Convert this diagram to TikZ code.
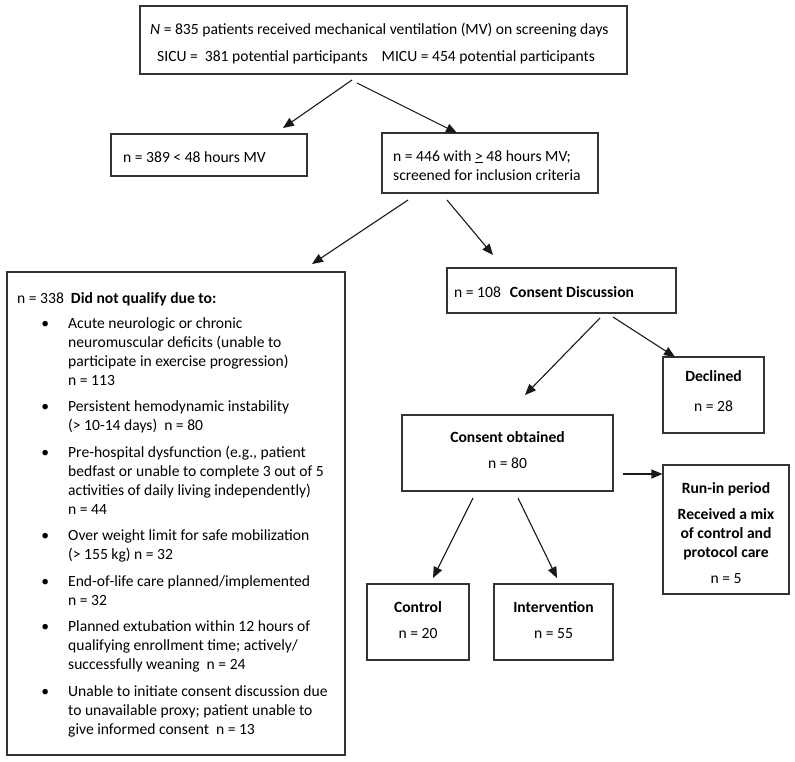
\documentclass[tikz,border=0pt]{standalone}
\usepackage{fontspec}
\setmainfont{Carlito}
\usetikzlibrary{arrows.meta}
\newcommand\fs{\fontsize{15.6}{19}\selectfont}
\newcommand\bul{\leavevmode\llap{\textbullet\hspace{19pt}}}
\begin{document}
\begin{tikzpicture}[x=1pt,y=-1pt,
  box/.style={draw=black!80,line width=1.1pt,inner sep=0pt,rectangle},
  txt/.style={inner sep=0pt,anchor=base west,font=\fs},
  ctxt/.style={inner sep=0pt,anchor=base,font=\fs},
  arr/.style={line width=1.1pt,draw=black!90,-{Triangle[length=11pt,width=9pt]}}]
\useasboundingbox (0,0) rectangle (795,761);
\fill[white] (0,0) rectangle (795,761);
% boxes
\node[box,minimum width=487pt,minimum height=68pt] (top) at (383.5,40) {};
\node[box,minimum width=196pt,minimum height=42pt] (short) at (209,155) {};
\node[box,minimum width=216pt,minimum height=60pt] (long) at (490,163) {};
\node[box,minimum width=338pt,minimum height=483pt] (excl) at (176,513.5) {};
\node[box,minimum width=229pt,minimum height=45pt] (cd) at (561.5,290.5) {};
\node[box,minimum width=101pt,minimum height=76pt] (dec) at (713.5,395) {};
\node[box,minimum width=211pt,minimum height=76pt] (co) at (507.5,453) {};
\node[box,minimum width=126pt,minimum height=129pt] (run) at (726,529.5) {};
\node[box,minimum width=102pt,minimum height=76pt] (ctrl) at (418,622) {};
\node[box,minimum width=119pt,minimum height=76pt] (int) at (553.5,622) {};
% texts
\node[txt] (t1) at (150,34) {\textit{N} = 835 patients received mechanical ventilation (MV) on screening days};
\node[txt] (t2) at (157,61) {SICU =\hspace{7pt}381 potential participants\hspace{14pt}MICU = 454 potential participants};
\node[txt] (t3) at (123,162) {n = 389 {<} 48 hours MV};
\node[txt] (t4) at (393,161) {\parbox[t]{200pt}{\fs n = 446 with \underline{>} 48 hours MV;\\ screened for inclusion criteria}};
\node[txt] (t5) at (17,303) {n = 338\hspace{7pt}\textbf{Did not qualify due to:}};
\node[txt] (t6) at (68,328) {\parbox[t]{275pt}{\fs
\bul Acute neurologic or chronic\\
neuromuscular deficits (unable to\\
participate in exercise progression)\\
n = 113\\[7.5pt]
\bul Persistent hemodynamic instability\\
(> 10-14 days)\hspace{7pt}n = 80\\[7.5pt]
\bul Pre-hospital dysfunction (e.g., patient\\
bedfast or unable to complete 3 out of 5\\
activities of daily living independently)\\
n = 44\\[7.5pt]
\bul Over weight limit for safe mobilization\\
(> 155 kg) n = 32\\[7.5pt]
\bul End-of-life care planned/implemented\\
n = 32\\[7.5pt]
\bul Planned extubation within 12 hours of\\
qualifying enrollment time; actively/\\
successfully weaning\hspace{7pt}n = 24\\[7.5pt]
\bul Unable to initiate consent discussion due\\
to unavailable proxy; patient unable to\\
give informed consent\hspace{7pt}n = 13}};
\node[txt] (t7) at (454,297) {n = 108\hspace{9pt}\textbf{Consent Discussion}};
\node[ctxt] (t8) at (713.5,381) {\parbox[t]{95pt}{\centering\fs\textbf{Declined}\\[11pt] n = 28}};
\node[ctxt] (t9) at (507.5,442) {\parbox[t]{200pt}{\centering\fs\textbf{Consent obtained}\\[7pt] n = 80}};
\node[ctxt] (t10) at (726,493) {\parbox[t]{120pt}{\centering\fs\textbf{Run-in period}\\[7pt] \textbf{Received a mix}\\ \textbf{of control and}\\ \textbf{protocol care}\\[7pt] n = 5}};
\node[ctxt] (t11) at (418,612) {\parbox[t]{95pt}{\centering\fs\textbf{Control}\\[7pt] n = 20}};
\node[ctxt] (t12) at (553.5,612) {\parbox[t]{115pt}{\centering\fs\textbf{Intervention}\\[7pt] n = 55}};
% connector end points
\coordinate (a1s) at (352,80);  \coordinate (a1e) at (283,128);
\coordinate (a2s) at (357,83);  \coordinate (a2e) at (457,133);
\coordinate (a3s) at (408,200); \coordinate (a3e) at (312,264);
\coordinate (a4s) at (447,200); \coordinate (a4e) at (493,255);
\coordinate (a5s) at (600,318); \coordinate (a5e) at (525,395);
\coordinate (a6s) at (613,317); \coordinate (a6e) at (675,357);
\coordinate (a7s) at (473,498); \coordinate (a7e) at (433,578);
\coordinate (a8s) at (518,498); \coordinate (a8e) at (557,578);
\coordinate (a9s) at (623,474);
\draw[arr] (a1s) -- (a1e);
\draw[arr] (a2s) -- (a2e);
\draw[arr] (a3s) -- (a3e);
\draw[arr] (a4s) -- (a4e);
\draw[arr] (a5s) -- (a5e);
\draw[arr] (a6s) -- (a6e);
\draw[arr] (a7s) -- (a7e);
\draw[arr] (a8s) -- (a8e);
\draw[arr] (a9s) -- (run.west |- a9s);
\end{tikzpicture}
\end{document}
